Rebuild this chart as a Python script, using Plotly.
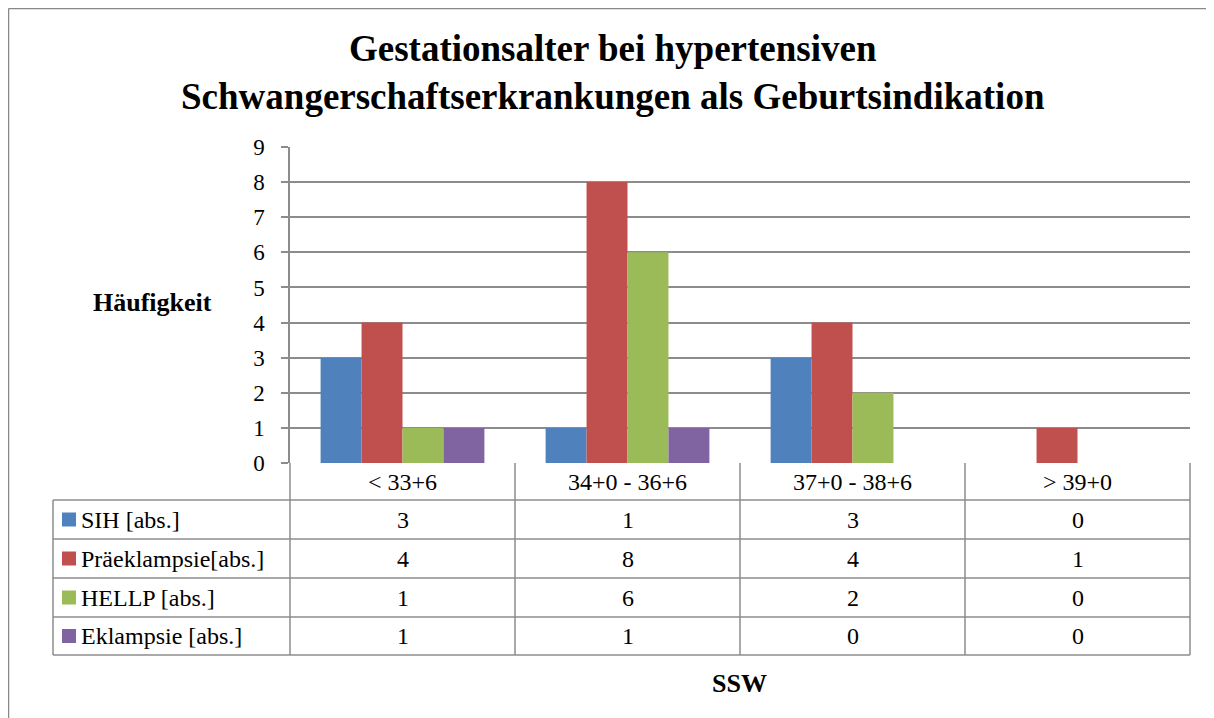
import plotly.graph_objects as go

categories = ["< 33+6", "34+0 - 36+6", "37+0 - 38+6", "> 39+0"]
series_names = ["SIH [abs.]", "Präeklampsie[abs.]", "HELLP [abs.]", "Eklampsie [abs.]"]
sih = [3, 1, 3, 0]
praeeklampsie = [4, 8, 4, 1]
hellp = [1, 6, 2, 0]
eklampsie = [1, 1, 0, 0]
series_values = [sih, praeeklampsie, hellp, eklampsie]
colors = ["#4F81BD", "#C0504D", "#9BBB59", "#8064A2"]
y_ticks = list(range(0, 10))

W, H = 1214, 718
FONT = "Liberation Serif"
GRID = "#8C8C8C"
OFF = 8  # page body margin compensation

def px(x):
    return (x - OFF) / W

def py(y):
    return 1 - (y - OFF) / H

x_left, x_right = 290, 1190
y_top, y_bottom = 147, 463
table_left = 53
row_lines = [500, 539, 578, 617, 655]

fig = go.Figure()
for name, vals, c in zip(series_names, series_values, colors):
    fig.add_trace(go.Bar(x=categories, y=vals, name=name, marker=dict(color=c, line=dict(width=0)),
                         showlegend=False))

shapes = []
annotations = []
line = dict(color=GRID, width=1.5)

col_w = (x_right - x_left) / len(categories)
for i in range(len(categories) + 1):
    xx = x_left + i * col_w
    shapes.append(dict(type="line", xref="paper", yref="paper", x0=px(xx), x1=px(xx),
                       y0=py(y_bottom), y1=py(row_lines[-1]), line=line))
shapes.append(dict(type="line", xref="paper", yref="paper", x0=px(table_left), x1=px(table_left),
                   y0=py(row_lines[0]), y1=py(row_lines[-1]), line=line))
for yy in row_lines:
    shapes.append(dict(type="line", xref="paper", yref="paper", x0=px(table_left), x1=px(x_right),
                       y0=py(yy), y1=py(yy), line=line))

shapes.append(dict(type="line", xref="paper", yref="paper", x0=px(8.5), x1=px(8.5), y0=py(8.5), y1=0,
                   line=dict(color="#888888", width=1.5)))
shapes.append(dict(type="line", xref="paper", yref="paper", x0=px(8.5), x1=1, y0=py(8.5), y1=py(8.5),
                   line=dict(color="#888888", width=1.5)))

TXT = dict(family=FONT, size=24, color="#000")
for cat in categories:
    annotations.append(dict(text=cat, xref="x", yref="paper", x=cat, y=py((y_bottom + row_lines[0]) / 2),
                            showarrow=False, font=TXT, xanchor="center", yanchor="middle"))

for r, (name, vals, c) in enumerate(zip(series_names, series_values, colors)):
    yc = (row_lines[r] + row_lines[r + 1]) / 2
    shapes.append(dict(type="rect", xref="paper", yref="paper", x0=px(62), x1=px(76),
                       y0=py(yc + 7), y1=py(yc - 7), fillcolor=c, line=dict(width=0)))
    annotations.append(dict(text=name, xref="paper", yref="paper", x=px(79), y=py(yc),
                            showarrow=False, font=TXT, xanchor="left", yanchor="middle"))
    for cat, v in zip(categories, vals):
        annotations.append(dict(text=str(v), xref="x", yref="paper", x=cat, y=py(yc),
                                showarrow=False, font=TXT, xanchor="center", yanchor="middle"))

annotations.append(dict(text="<b>Häufigkeit</b>", xref="paper", yref="paper", x=px(152), y=py(302),
                        showarrow=False, font=dict(family=FONT, size=26, color="#000"),
                        xanchor="center", yanchor="middle"))
annotations.append(dict(text="<b>SSW</b>", xref="paper", yref="paper", x=px(739), y=py(683),
                        showarrow=False, font=dict(family=FONT, size=26, color="#000"),
                        xanchor="center", yanchor="middle"))
annotations.append(dict(text="<b>Gestationsalter bei hypertensiven<br>Schwangerschaftserkrankungen als Geburtsindikation</b>",
                        xref="paper", yref="paper", x=px(613), y=py(73),
                        showarrow=False, font=dict(family=FONT, size=37, color="#000"),
                        xanchor="center", yanchor="middle"))

fig.update_layout(
    width=W, height=H,
    margin=dict(l=0, r=0, t=0, b=0),
    paper_bgcolor="white", plot_bgcolor="white",
    barmode="group", bargap=0.272, bargroupgap=0,
    shapes=shapes, annotations=annotations,
    xaxis=dict(domain=[px(x_left), px(x_right)], showticklabels=False, showgrid=False,
               showline=False, ticks="", zeroline=False, automargin=False),
    yaxis=dict(domain=[py(y_bottom), py(y_top)], range=[0, 9], tickvals=y_ticks, automargin=False,
               showgrid=True, gridcolor=GRID, gridwidth=1.5, zeroline=False,
               showline=True, linecolor=GRID, linewidth=1.5,
               ticks="outside", ticklen=7, tickcolor=GRID, tickwidth=1.5,
               tickfont=dict(family=FONT, size=23, color="#000"), ticklabelstandoff=12),
)

fig.write_html("out.html")
